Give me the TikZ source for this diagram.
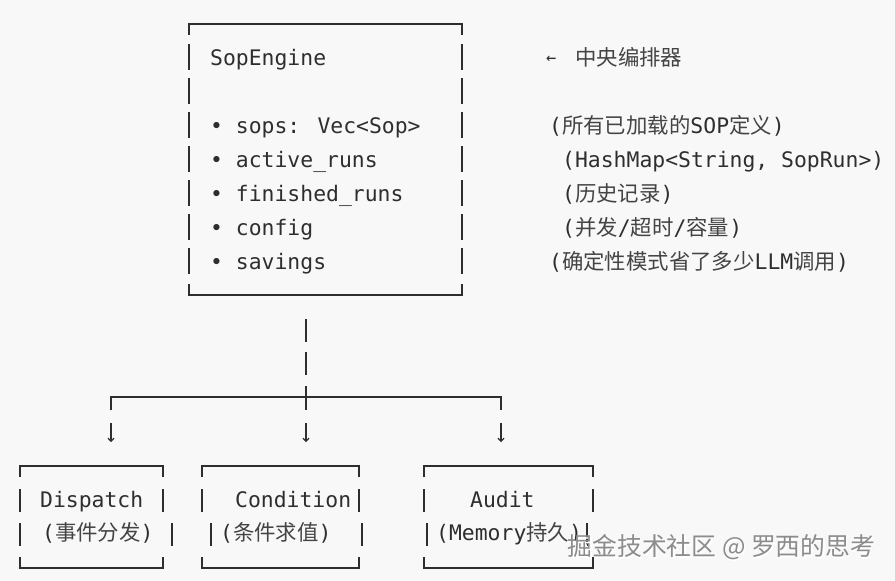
\documentclass[tikz,border=0pt]{standalone}
\usepackage{fontspec}
\setmainfont{DejaVu Sans Mono}
\newfontfamily\cjk{Noto Sans CJK SC}
\usetikzlibrary{arrows.meta}
\definecolor{bg}{HTML}{F8F8F8}
\definecolor{ink}{HTML}{2E2E2E}
\definecolor{cjkink}{HTML}{444444}
\definecolor{wm}{HTML}{8C8C8C}
\begin{document}
\begin{tikzpicture}[x=1pt,y=-1pt,
  txt/.style={anchor=base west, inner sep=0pt, font=\fontsize{21.4}{24}\selectfont, text=ink},
  hl/.style={line width=1.8pt, draw=ink},
  vb/.style={line width=1.2pt, draw=ink},
  arr/.style={vb, -{Straight Barb[length=3pt,width=6pt]}},
  wmark/.style={anchor=base west, inner sep=0pt, font=\cjk\fontsize{24.8}{28}\selectfont},
]
\fill[bg] (0,0) rectangle (895,581);
\useasboundingbox (0,0) rectangle (895,581);

% ---------- SopEngine frame ----------
\coordinate (eTL) at (189,24);
\coordinate (eBR) at (462,295);
\draw[hl] (189,35) -- (eTL) -- (eTL -| eBR) -- (462,35);
\draw[hl] (189,284) -- (eBR -| eTL) -- (eBR) -- (462,284);
\foreach \c in {57,91,125,159,193,227,261}{
  \draw[vb] (189,\c-13) -- (189,\c+13);
  \draw[vb] (462,\c-13) -- (462,\c+13);
}
\node[txt] (title) at (210,65) {SopEngine};
\node[txt] (i1) at (210,133) {• sops: Vec<Sop>};
\node[txt] (i2) at (210,167) {• active\_runs};
\node[txt] (i3) at (210,201) {• finished\_runs};
\node[txt] (i4) at (210,235) {• config};
\node[txt] (i5) at (210,269) {• savings};

% ---------- annotations ----------
\node[txt, font=\fontsize{17}{18}\selectfont] (larr) at (546,63) {←};
\node[txt, text=cjkink] (n0) at (575,65) {\cjk 中央编排器};
\node[txt] (n1) at (549,133) {(\textcolor{cjkink}{\cjk 所有已加载的}SOP\textcolor{cjkink}{\cjk 定义})};
\node[txt] (n2) at (562,167) {(HashMap<String, SopRun>)};
\node[txt] (n3) at (562,201) {(\textcolor{cjkink}{\cjk 历史记录})};
\node[txt] (n4) at (562,235) {(\textcolor{cjkink}{\cjk 并发}/\textcolor{cjkink}{\cjk 超时}/\textcolor{cjkink}{\cjk 容量})};
\node[txt] (n5) at (549,269) {(\textcolor{cjkink}{\cjk 确定性模式省了多少}LLM\textcolor{cjkink}{\cjk 调用})};

% ---------- connector ----------
\coordinate (trunk) at (306,397);
\coordinate (bL) at (111,397);
\coordinate (bR) at (501,397);
\draw[vb] (306,319) -- (306,342);
\draw[vb] (306,352) -- (306,375);
\draw[vb] (306,386) -- (306,410);
\draw[hl] (111,410) -- (bL) -- (bR) -- (501,410);
\coordinate (a1) at (111,423);
\coordinate (a2) at (306,423);
\coordinate (a3) at (501,423);
\draw[arr] (a1) -- ++(0,19);
\draw[arr] (a2) -- ++(0,19);
\draw[arr] (a3) -- ++(0,19);

% ---------- child boxes ----------
% Dispatch
\draw[hl] (20,477) -- (20,466) -- (163,466) -- (163,477);
\draw[hl] (20,557) -- (20,568) -- (163,568) -- (163,557);
\draw[vb] (20,489) -- (20,512);  \draw[vb] (163,489) -- (163,512);
\draw[vb] (20,523) -- (20,546);  \draw[vb] (172,523) -- (172,546);
\node[txt] (dispatch) at (40,507) {Dispatch};
\node[txt] (dispatchcn) at (42,540) {(\textcolor{cjkink}{\cjk 事件分发})};
% Condition
\draw[hl] (202,477) -- (202,466) -- (359,466) -- (359,477);
\draw[hl] (202,557) -- (202,568) -- (359,568) -- (359,557);
\draw[vb] (202,489) -- (202,512);  \draw[vb] (359,489) -- (359,512);
\draw[vb] (211,523) -- (211,546);  \draw[vb] (362,523) -- (362,546);
\node[txt] (condition) at (235,507) {Condition};
\node[txt] (conditioncn) at (220,540) {(\textcolor{cjkink}{\cjk 条件求值})};
% Audit
\draw[hl] (424,477) -- (424,466) -- (593,466) -- (593,477);
\draw[hl] (424,557) -- (424,568) -- (593,568) -- (593,557);
\draw[vb] (424,489) -- (424,512);  \draw[vb] (593,489) -- (593,512);
\draw[vb] (427,523) -- (427,546);  \draw[vb] (587,523) -- (587,546);
\node[txt] (audit) at (470,507) {Audit};
\node[txt] (auditcn) at (436,540) {(Memory\textcolor{cjkink}{\cjk 持久})};

% ---------- watermark ----------
\node[wmark, text=white] (wm2) at (569,557) {掘金技术社区 @ 罗西的思考};
\node[wmark, text=wm] (wm) at (567.5,555.5) {掘金技术社区 @ 罗西的思考};
\end{tikzpicture}
\end{document}
